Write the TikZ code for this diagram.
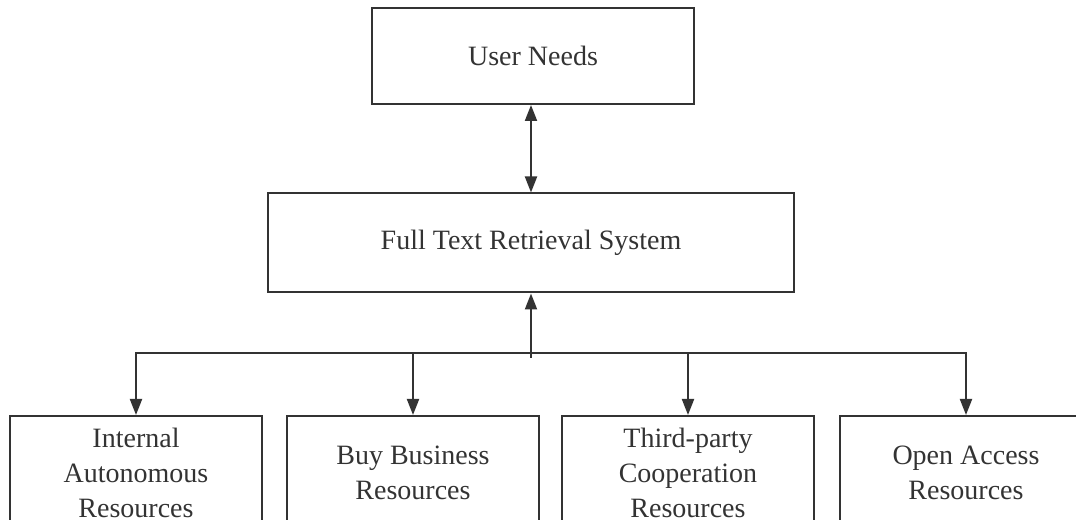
\documentclass[tikz,border=0pt]{standalone}
\usepackage{fontspec}
\setmainfont{Liberation Serif}
\usetikzlibrary{arrows.meta}
\definecolor{ink}{HTML}{333333}
\def\bw{252}
\def\bh{114}
\tikzstyle{box}=[draw=ink,line width=1.5pt,text=ink,align=center,inner sep=2pt,font=\fontsize{21}{26.25}\selectfont]
\tikzstyle{arr}=[draw=ink,line width=1.5pt,-{Triangle[length=12pt,width=9pt]}]
\begin{document}
\begin{tikzpicture}[x=0.75pt,y=-0.75pt]
			\useasboundingbox (0,0) rectangle (1076,520);
			\node[box,minimum width=322*0.75pt,minimum height=96*0.75pt](user) at (533,56){User Needs};
			\node[box,minimum width=526*0.75pt,minimum height=99*0.75pt](full) at (531,243){Full Text Retrieval System};
			\node[box,minimum width=\bw*0.75pt,minimum height=\bh*0.75pt,anchor=north](r1) at (136,415){Internal\\Autonomous\\Resources};
			\node[box,minimum width=\bw*0.75pt,minimum height=\bh*0.75pt,anchor=north](r2) at (413,415){Buy Business\\Resources};
			\node[box,minimum width=\bw*0.75pt,minimum height=\bh*0.75pt,anchor=north](r3) at (688,415){Third-party\\Cooperation\\Resources};
			\node[box,minimum width=\bw*0.75pt,minimum height=\bh*0.75pt,anchor=north](r4) at (966,415){Open Access\\Resources};
			\coordinate(bus) at (531,353);
			\coordinate(stem) at (531,358);
			\draw[arr,{Triangle[length=12pt,width=9pt]}-{Triangle[length=12pt,width=9pt]}](user.south -| full)--(full);
			\draw[arr](stem)--(full);
			\foreach \r in {r1,r2,r3,r4}
				\draw[arr](bus)-|(\r);
		\end{tikzpicture}
\end{document}
